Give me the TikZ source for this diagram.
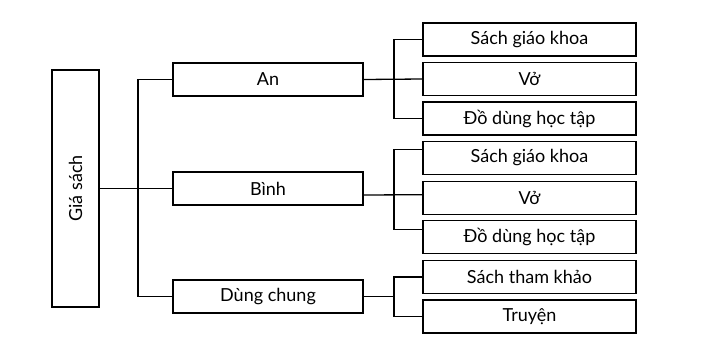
\documentclass[tikz,border=0pt]{standalone}
\usepackage{fontspec}
\setmainfont{Lato}
\usetikzlibrary{calc}
\begin{document}
\begin{tikzpicture}[x=1pt,y=-1pt,
  box/.style={draw=black,line width=1.8pt,inner sep=0pt,font=\fontsize{18}{20}\selectfont},
  lbox/.style={box,minimum width=190pt,minimum height=33pt},
  rbox/.style={box,minimum width=213pt,minimum height=33pt},
  conn/.style={draw=black,line width=1.3pt}]
\useasboundingbox[fill=white] (0,0) rectangle (711,343);
\node[box,minimum width=47pt,minimum height=237pt] (gs) at (75.5,188.5) {};
\node[rotate=90,font=\fontsize{18}{20}\selectfont] (gst) at (gs.center) {Giá sách};
\node[lbox] (an) at (268,79.5) {An};
\node[lbox] (binh) at (268,188.5) {Bình};
\node[lbox] (dc) at (268,296.5) {Dùng chung};
\node[rbox] (a1) at (529.5,39.5) {Sách giáo khoa};
\node[rbox] (a2) at (529.5,79) {Vở};
\node[rbox] (a3) at (529.5,118.5) {Đồ dùng học tập};
\node[rbox] (b1) at (529.5,158) {Sách giáo khoa};
\node[rbox] (b2) at (529.5,198) {Vở};
\node[rbox] (b3) at (529.5,237) {Đồ dùng học tập};
\node[rbox] (c1) at (529.5,277) {Sách tham khảo};
\node[rbox] (c2) at (529.5,316.5) {Truyện};
% main trunk
\coordinate (tx) at (138,0);
\draw[conn] (gs.east) -- (binh.west);
\draw[conn] (an.west) -| (tx |- an.west) |- (dc.west);
% group a
\coordinate (bx) at (394,0);
\draw[conn] (an.east) -- (a2.west);
\draw[conn] (a1.west) -| (bx |- a1.west) |- (a3.west);
% group b
\coordinate (bm) at ($(binh.east)+(0,6.5)$);
\coordinate (b1c) at ($(b1.west)+(0,-8.7)$);
\coordinate (b2c) at ($(b2.west)+(0,-3.3)$);
\coordinate (b3c) at ($(b3.west)+(0,-7.7)$);
\draw[conn] (bm) -- (b2c);
\draw[conn] (b1c) -| (bx |- b1c) |- (b3c);
% group c
\draw[conn] (dc.east) -- (bx |- dc.east);
\draw[conn] (c1.west) -| (bx |- c1.west) |- (c2.west);
\end{tikzpicture}
\end{document}
